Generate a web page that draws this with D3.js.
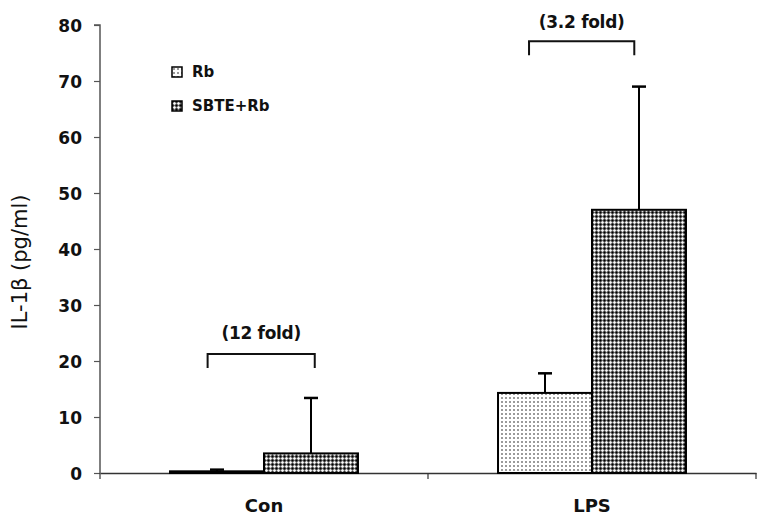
<!DOCTYPE html>
<html><head><meta charset="utf-8">
<script src="https://cdn.jsdelivr.net/npm/d3@7"></script>
<style>body{margin:0;background:#fff}svg{display:block}</style>
</head><body>
<svg id="c" width="760" height="519"></svg>
<script>
const categories = ["Con", "LPS"];
const seriesNames = ["Rb", "SBTE+Rb"];
const rbValues = [0.3, 14.3];
const rbErrors = [0.3, 3.5];
const sbteValues = [3.5, 47];
const sbteErrors = [9.9, 22];
const yTicks = [0, 10, 20, 30, 40, 50, 60, 70, 80];
const foldLabels = ["(12 fold)", "(3.2 fold)"];
const foldLevels = [21.25, 77.1];

const svg = d3.select("#c");
const defs = svg.append("defs");
const p1 = defs.append("pattern").attr("id","pRb").attr("width",4).attr("height",4).attr("patternUnits","userSpaceOnUse");
p1.append("rect").attr("width",4).attr("height",4).attr("fill","#fff");
p1.append("rect").attr("x",1).attr("y",1).attr("width",2).attr("height",2).attr("fill","#9a9a9a");
const p2 = defs.append("pattern").attr("id","pSb").attr("width",4).attr("height",4).attr("patternUnits","userSpaceOnUse");
p2.append("rect").attr("width",4).attr("height",4).attr("fill","#777");
[[0,0,"#000"],[1,0,"#333"],[0,1,"#333"],[3,0,"#333"],[0,3,"#333"],
 [2,2,"#fff"],[1,2,"#ddd"],[3,2,"#ddd"],[2,1,"#ddd"],[2,3,"#ddd"]].forEach(([px,py,c])=>{
  p2.append("rect").attr("x",px).attr("y",py).attr("width",1).attr("height",1).attr("fill",c);
});

const fills = ["url(#pRb)", "url(#pSb)"];
const x0 = 100, x1 = 756, yTop = 25, yBot = 473;
const x = d3.scaleBand().domain(categories).range([x0, x1]).paddingInner(0).paddingOuter(0);
const xs = d3.scaleBand().domain(seriesNames).range([0, x.bandwidth()]).paddingOuter(0.745).paddingInner(0);
const y = d3.scaleLinear().domain([0, 80]).range([yBot, yTop]);

const bold = "'DejaVu Sans', Verdana, sans-serif";

// y axis
const ya = svg.append("g").attr("transform",`translate(${x0},0)`)
  .call(d3.axisLeft(y).tickValues(yTicks).tickSize(6).tickPadding(12));
ya.select(".domain").attr("stroke","#555").attr("stroke-width",1.5).attr("d",`M-6,${yTop}H0V${yBot}`);
ya.selectAll(".tick line").attr("stroke","#555").attr("stroke-width",1.2);
ya.selectAll(".tick text").attr("font-family",bold).attr("font-size",17).attr("font-weight","bold").attr("fill","#111").attr("dy","0.36em");

// x axis
const xa = svg.append("g").attr("transform",`translate(0,${yBot})`)
  .call(d3.axisBottom(x).tickSize(0).tickPadding(26));
xa.select(".domain").attr("stroke","#333").attr("stroke-width",1.5);
xa.selectAll(".tick text").attr("font-family",bold).attr("font-size",18).attr("font-weight","bold").attr("fill","#111");
svg.append("g").selectAll("line").data([x0, x0 + x.bandwidth(), x1]).join("line")
  .attr("x1",d=>d).attr("x2",d=>d).attr("y1",yBot).attr("y2",yBot+6)
  .attr("stroke","#333").attr("stroke-width",1.2);

// bars
const rows = [];
categories.forEach((c,i)=>{
  rows.push({c, s:seriesNames[0], v:rbValues[i], e:rbErrors[i], k:0});
  rows.push({c, s:seriesNames[1], v:sbteValues[i], e:sbteErrors[i], k:1});
});
const g = svg.append("g");
g.selectAll("rect.bar").data(rows).join("rect").attr("class","bar")
  .attr("x",d=>x(d.c)+xs(d.s)).attr("width",xs.bandwidth())
  .attr("y",d=>y(d.v)).attr("height",d=>y(0)-y(d.v))
  .attr("fill",d=>fills[d.k]).attr("stroke","#000").attr("stroke-width",2);
const cx = d=>x(d.c)+xs(d.s)+xs.bandwidth()/2;
g.selectAll("line.err").data(rows).join("line").attr("class","err")
  .attr("x1",cx).attr("x2",cx).attr("y1",d=>y(d.v)).attr("y2",d=>y(d.v+d.e))
  .attr("stroke","#000").attr("stroke-width",2);
g.selectAll("line.cap").data(rows).join("line").attr("class","cap")
  .attr("x1",d=>cx(d)-7).attr("x2",d=>cx(d)+7).attr("y1",d=>y(d.v+d.e)).attr("y2",d=>y(d.v+d.e))
  .attr("stroke","#000").attr("stroke-width",2.5);

// brackets (start/end as fraction of bar width)
const brA = [0.4, 0.33], brB = [0.54, 0.45], lblGap = [15, 13];
categories.forEach((c,i)=>{
  const a = x(c)+xs(seriesNames[0])+xs.bandwidth()*brA[i];
  const b = x(c)+xs(seriesNames[1])+xs.bandwidth()*brB[i];
  const yt = y(foldLevels[i]);
  svg.append("path").attr("d",`M${a},${yt+14}V${yt}H${b}V${yt+14}`)
    .attr("fill","none").attr("stroke","#111").attr("stroke-width",2);
  svg.append("text").attr("x",(a+b)/2).attr("y",yt-lblGap[i]).attr("text-anchor","middle")
    .attr("font-family",bold).attr("font-size",17).attr("font-weight","bold").attr("fill","#111")
    .attr("letter-spacing","-0.3").text(foldLabels[i]);
});

// legend
const lg = svg.append("g").attr("transform","translate(172,67)");
seriesNames.forEach((s,i)=>{
  const r = lg.append("g").attr("transform",`translate(0,${i*34})`);
  r.append("rect").attr("width",10).attr("height",10).attr("fill",fills[i]).attr("stroke","#000").attr("stroke-width",1.5);
  r.append("text").attr("x",20).attr("y",10).attr("font-family",bold)
    .attr("font-size",15).attr("font-weight","bold").attr("fill","#111").text(s);
});

// y label
svg.append("text").attr("transform","translate(27,262) rotate(-90)").attr("text-anchor","middle")
  .attr("font-family","'DejaVu Sans', sans-serif").attr("font-size",21).attr("fill","#111").text("IL-1β (pg/ml)");
</script>
</body></html>
